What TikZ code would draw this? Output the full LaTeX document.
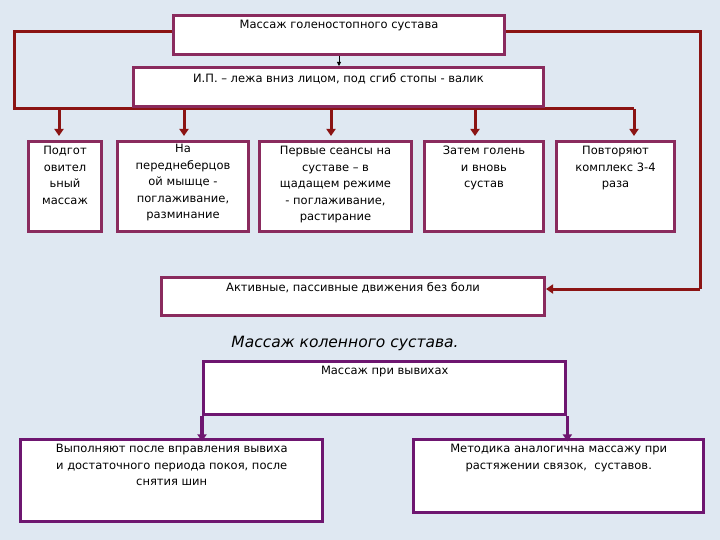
\documentclass[tikz,border=0pt]{standalone}
\usepackage{fontspec}
\setmainfont{DejaVu Sans}
\usetikzlibrary{arrows.meta}
\definecolor{bg}{HTML}{DFE8F2}
\definecolor{bord}{HTML}{8A2B5E}
\definecolor{ln}{HTML}{8B1414}
\definecolor{pur}{HTML}{6E1670}
\begin{document}
\begin{tikzpicture}[x=1pt,y=-1pt,
  box/.style={draw=bord,line width=3pt,fill=white,anchor=north west,inner sep=0pt},
  pbox/.style={draw=pur,line width=3.4pt,fill=white,anchor=north west,inner sep=0pt},
  txt/.style={anchor=north,font=\fontsize{11.5}{16.5}\selectfont,align=center,inner sep=0pt},
  con/.style={draw=ln,line width=3pt},
  arr/.style={draw=ln,line width=3pt,-{Triangle[length=7pt,width=9pt]}},
  parr/.style={draw=pur,line width=3.2pt,-{Triangle[length=7pt,width=9pt]}}]
\fill[bg] (0,0) rectangle (720,540);
\useasboundingbox (0,0) rectangle (720,540);
\coordinate (bl) at (14,109); \coordinate (br) at (700,109);
\coordinate (tl) at (14,32); \coordinate (tr) at (700,32);
\coordinate (ar) at (700,289);
\draw[con] (172,32) -- (tl) -- (bl) -- (634,109);
\draw[con] (503,32) -- (tr) -- (ar);
\node[box,minimum width=331,minimum height=39] (top) at (172,14) {};
\node[txt] at ([yshift=-6]top.north) {Массаж голеностопного сустава};
\node[box,minimum width=410,minimum height=39] (ip) at (132,66) {};
\node[txt] at ([yshift=-7]ip.north) {И.П. – лежа вниз лицом, под сгиб стопы - валик};
\draw[draw=black,line width=0.8pt,-{Triangle[length=4pt,width=4pt]}] (top.south) -- (top.south |- ip.north);
\node[box,minimum width=73,minimum height=90] (b1) at (27,140) {};
\node[box,minimum width=131,minimum height=90] (b2) at (116,140) {};
\node[box,minimum width=152,minimum height=90] (b3) at (258,140) {};
\node[box,minimum width=119,minimum height=90] (b4) at (423,140) {};
\node[box,minimum width=118,minimum height=90] (b5) at (555,140) {};
\node[txt] at ([yshift=-6]b1.north) {Подгот\\овител\\ьный\\массаж};
\node[txt] at ([yshift=-4]b2.north) {На\\переднеберцов\\ой мышце -\\поглаживание,\\разминание};
\node[txt] at ([yshift=-6]b3.north) {Первые сеансы на\\суставе – в\\щадащем режиме\\- поглаживание,\\растирание};
\node[txt] at ([yshift=-6]b4.north) {Затем голень\\и вновь\\сустав};
\node[txt] at ([yshift=-6]b5.north) {Повторяют\\комплекс 3-4\\раза};
\foreach \n/\x in {b1/59,b2/184,b3/331,b4/475,b5/634}
  \draw[arr] (\x,109) -- (\x,136);
\node[box,minimum width=383,minimum height=38] (act) at (160,276) {};
\node[txt] at ([yshift=-6]act.north) {Активные, пассивные движения без боли};
\draw[arr] (ar) -- (act.east |- ar);
\node[font=\itshape\fontsize{15.5}{20}\selectfont] (kt) at (345,343) {Массаж коленного сустава.};
\node[pbox,minimum width=362,minimum height=53] (vv) at (202,360) {};
\node[txt] at ([yshift=-6]vv.north) {Массаж при вывихах};
\node[pbox,minimum width=302,minimum height=82] (bl2) at (19,438) {};
\node[txt] at ([yshift=-6]bl2.north) {Выполняют после вправления вывиха\\и достаточного периода покоя, после\\снятия шин};
\node[pbox,minimum width=290,minimum height=73] (br2) at (412,438) {};
\node[txt] at ([yshift=-6]br2.north) {Методика аналогична массажу при\\растяжении связок,\ \ суставов.};
\draw[parr] (vv.south west) -- ++(0,25);
\draw[parr] (vv.south east) -- ++(0,25);
\end{tikzpicture}
\end{document}
